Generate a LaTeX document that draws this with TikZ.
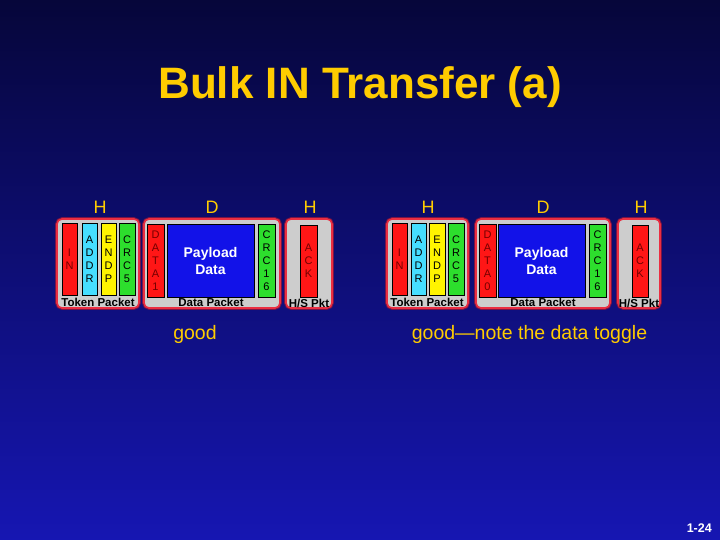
\documentclass[tikz,border=0pt]{standalone}
\usepackage{fontspec}
\setmainfont{Liberation Sans}
\usepackage{tikz}
\usetikzlibrary{positioning}
\usepackage{xcolor}
\definecolor{slidetop}{RGB}{6, 6, 58}
\definecolor{slidebot}{RGB}{22, 22, 178}
\definecolor{titleyellow}{RGB}{255, 204, 0}
\definecolor{pktred}{RGB}{235, 45, 65}
\definecolor{pktglow}{RGB}{120, 20, 70}
\definecolor{pktgray}{RGB}{205, 205, 205}
\definecolor{fldred}{RGB}{255, 22, 22}
\definecolor{fldcyan}{RGB}{70, 222, 255}
\definecolor{fldyellow}{RGB}{255, 244, 0}
\definecolor{fldgreen}{RGB}{45, 222, 45}
\definecolor{payblue}{RGB}{18, 18, 232}
\definecolor{darkletter}{RGB}{115, 0, 0}

\tikzset{
  packet/.style={draw=pktred, line width=1.6pt, fill=pktgray, rounded corners=5pt,
    preaction={draw=pktglow, line width=3.6pt}},
  field/.style={draw=black, line width=0.5pt, inner sep=0pt, align=center,
    font=\fontsize{11}{13}\selectfont, minimum height=72pt},
  pktlabel/.style={font=\bfseries\fontsize{11.5}{12}\selectfont, inner sep=0pt},
  dirlabel/.style={titleyellow, font=\fontsize{18}{20}\selectfont, anchor=base, inner sep=0pt},
  remark/.style={titleyellow, font=\fontsize{19.5}{22}\selectfont, anchor=base, inner sep=0pt}
}

\begin{document}
\begin{tikzpicture}[x=1pt, y=-1pt]

  % Slide background
  \useasboundingbox (0,0) rectangle (720,540);
  \shade[top color=slidetop, bottom color=slidebot] (0,0) rectangle (720,540);

  % Title
  \node[titleyellow, font=\bfseries\fontsize{44}{48}\selectfont, anchor=base, inner sep=0pt]
    (title) at (360,99) {Bulk IN Transfer (a)};

  % ---- first transfer (DATA1) ----
  \node[dirlabel] (hA) at (100,214) {H};
  \node[dirlabel] (dA) at (212,214) {D};
  \node[dirlabel] (hsA) at (310,214) {H};

  % Token packet
  \node[packet, minimum width=82pt, minimum height=89pt] (tokenA) at (98,263.5) {};
  \node[field, fill=fldred, text=darkletter, minimum width=15pt] (inA) at (69.5,259) {I\\N};
  \node[field, fill=fldcyan, minimum width=15pt] (addrA) at (89.5,259) {A\\D\\D\\R};
  \node[field, fill=fldyellow, minimum width=15pt] (endpA) at (108.5,259) {E\\N\\D\\P};
  \node[field, fill=fldgreen, minimum width=16pt] (crcfiveA) at (127,259) {C\\R\\C\\5};
  \node[pktlabel] (tokenAlbl) at (98,302) {Token Packet};

  % Data packet
  \node[packet, minimum width=136pt, minimum height=89pt] (dataA) at (212,263.5) {};
  \node[field, fill=fldred, text=darkletter, minimum width=17pt, minimum height=73pt] (pidA) at (155.5,260.5) {D\\A\\T\\A\\1};
  \node[field, fill=payblue, text=white, font=\bfseries\fontsize{14}{17}\selectfont,
    minimum width=87pt, minimum height=73pt] (payA) at (210.5,260.5) {Payload\\Data};
  \node[field, fill=fldgreen, minimum width=17pt, minimum height=73pt] (crcA) at (266.5,260.5) {C\\R\\C\\1\\6};
  \node[pktlabel] (dataAlbl) at (211,302) {Data Packet};

  % Handshake packet
  \node[packet, minimum width=46pt, minimum height=89pt] (hsktA) at (309,263.5) {};
  \node[field, fill=fldred, text=darkletter, minimum width=17pt] (ackA) at (308.5,261) {A\\C\\K};
  \node[pktlabel] (hsktAlbl) at (309,303) {H/S Pkt};

  \node[remark] (goodA) at (195,339) {good};

  % ---- second transfer (DATA0) ----
  \node[dirlabel] (hB) at (428,214) {H};
  \node[dirlabel] (dB) at (543,214) {D};
  \node[dirlabel] (hsB) at (641,214) {H};

  % Token packet
  \node[packet, minimum width=81pt, minimum height=89pt] (tokenB) at (427.5,263.5) {};
  \node[field, fill=fldred, text=darkletter, minimum width=15pt] (inB) at (399.5,259) {I\\N};
  \node[field, fill=fldcyan, minimum width=15pt] (addrB) at (418.5,259) {A\\D\\D\\R};
  \node[field, fill=fldyellow, minimum width=16pt] (endpB) at (437,259) {E\\N\\D\\P};
  \node[field, fill=fldgreen, minimum width=16pt] (crcfiveB) at (456,259) {C\\R\\C\\5};
  \node[pktlabel] (tokenBlbl) at (427,302) {Token Packet};

  % Data packet
  \node[packet, minimum width=134pt, minimum height=89pt] (dataB) at (543,263.5) {};
  \node[field, fill=fldred, text=darkletter, minimum width=17pt, minimum height=73pt] (pidB) at (487.5,260.5) {D\\A\\T\\A\\0};
  \node[field, fill=payblue, text=white, font=\bfseries\fontsize{14}{17}\selectfont,
    minimum width=87pt, minimum height=73pt] (payB) at (541.5,260.5) {Payload\\Data};
  \node[field, fill=fldgreen, minimum width=17pt, minimum height=73pt] (crcB) at (597.5,260.5) {C\\R\\C\\1\\6};
  \node[pktlabel] (dataBlbl) at (543,302) {Data Packet};

  % Handshake packet
  \node[packet, minimum width=42pt, minimum height=89pt] (hsktB) at (639,263.5) {};
  \node[field, fill=fldred, text=darkletter, minimum width=16pt] (ackB) at (640,261) {A\\C\\K};
  \node[pktlabel] (hsktBlbl) at (639,303) {H/S Pkt};

  \node[remark] (goodB) at (529.5,339) {good---note the data toggle};

  % Slide number
  \node[white, font=\bfseries\fontsize{12.5}{14}\selectfont, anchor=base east, inner sep=0pt]
    (slideno) at (712,532) {1-24};

\end{tikzpicture}
\end{document}
